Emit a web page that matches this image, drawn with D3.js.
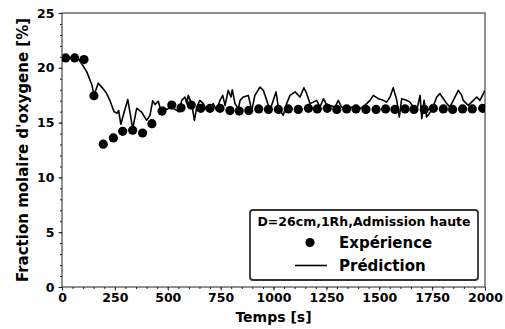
<!DOCTYPE html>
<html>
<head>
<meta charset="utf-8">
<script src="https://cdn.jsdelivr.net/npm/d3@7"></script>
<style>
  body { margin: 0; background: #fff; }
  svg text { font-family: "DejaVu Sans", sans-serif; font-weight: bold; }
</style>
</head>
<body>
<svg width="505" height="329"></svg>
<script>
// experiment (time s, O2 %)
var expTime = [17, 60, 104, 151, 195, 243, 287, 334, 381, 425, 473, 519, 563, 611, 656, 700, 747, 794, 838, 883,
  930, 976, 1023, 1070, 1117, 1165, 1207, 1254, 1299, 1346, 1390, 1437, 1485, 1530, 1574, 1622, 1664, 1713,
  1756, 1803, 1847, 1894, 1940, 1989];
var expValue = [20.9, 20.9, 20.75, 17.45, 13.03, 13.6, 14.2, 14.3, 14.05, 14.9, 16.05, 16.6, 16.35, 16.6, 16.3, 16.3,
  16.3, 16.1, 16.05, 16.1, 16.25, 16.2, 16.2, 16.25, 16.2, 16.3, 16.25, 16.3, 16.2, 16.25, 16.25, 16.2, 16.2,
  16.25, 16.2, 16.25, 16.2, 16.2, 16.3, 16.25, 16.2, 16.25, 16.25, 16.3];

// prediction
var predTime = [0, 76, 99, 118, 142, 151, 172, 194, 208, 227, 246, 260, 268, 278, 293, 311, 326, 334, 353, 377,
  400, 416, 429, 440, 455, 468, 479, 497, 514, 528, 542, 553, 566, 582, 590, 597, 613, 626, 637, 652, 668,
  684, 700, 715, 731, 747, 760, 771, 786, 799, 805, 818, 834, 842, 857, 881, 897, 912, 936, 952, 968, 983,
  999, 1012, 1023, 1046, 1062, 1078, 1102, 1125, 1144, 1157, 1173, 1188, 1204, 1220, 1236, 1248, 1267,
  1291, 1306, 1322, 1346, 1377, 1409, 1441, 1456, 1472, 1495, 1519, 1535, 1551, 1566, 1583, 1595, 1606,
  1630, 1645, 1661, 1677, 1693, 1701, 1712, 1724, 1748, 1772, 1787, 1803, 1819, 1834, 1850, 1874, 1890,
  1897, 1921, 1945, 1961, 1976, 2000];
var predValue = [20.9, 20.85, 20.2, 19.6, 18.4, 17.5, 18.6, 18.1, 17.75, 17.0, 16.0, 15.85, 16.1, 14.85, 15.9, 17.1,
  15.4, 14.4, 16.3, 15.95, 15.2, 15.65, 17.0, 16.65, 16.95, 16.1, 16.4, 16.2, 16.45, 16.3, 16.12, 15.97, 17.03,
  17.33, 16.73, 17.48, 16.73, 15.2, 16.42, 17.03, 16.73, 16.12, 16.36, 16.73, 16.12, 17.03, 17.48, 16.57,
  17.94, 17.33, 18.0, 16.73, 16.27, 17.03, 17.33, 17.48, 16.1, 17.48, 18.24, 17.94, 17.03, 16.1, 17.03,
  17.8, 16.4, 15.66, 16.73, 17.48, 17.8, 17.33, 18.18, 17.64, 16.73, 16.87, 17.03, 16.42, 17.18, 16.73,
  16.57, 16.42, 17.03, 16.42, 16.36, 16.42, 16.27, 16.73, 17.03, 17.48, 17.18, 17.03, 16.87, 17.33, 18.18,
  17.03, 15.51, 17.18, 17.03, 16.87, 16.42, 16.12, 17.48, 15.36, 17.03, 15.51, 16.12, 17.33, 17.64, 17.18,
  16.73, 16.42, 17.03, 17.94, 17.48, 17.03, 16.57, 17.03, 17.33, 17.03, 17.94];

var xTicks = [0, 250, 500, 750, 1000, 1250, 1500, 1750, 2000];
var yTicks = [0, 5, 10, 15, 20, 25];

var svg = d3.select("svg");
var pLeft = 62, pRight = 485, pTop = 13, pBottom = 287;

var x = d3.scaleLinear().domain([0, 2000]).range([pLeft, pRight]);
var y = d3.scaleLinear().domain([0, 25]).range([pBottom, pTop]);

// minor ticks
svg.append("g")
  .attr("transform", "translate(0," + pBottom + ")")
  .call(d3.axisBottom(x).tickValues(d3.range(0, 2001, 50)).tickSize(2).tickFormat(""))
  .call(g => g.select(".domain").remove());
svg.append("g")
  .attr("transform", "translate(" + pLeft + ",0)")
  .call(d3.axisLeft(y).tickValues(d3.range(0, 26, 1)).tickSize(2).tickFormat(""))
  .call(g => g.select(".domain").remove());

// major ticks
var xAxis = svg.append("g")
  .attr("transform", "translate(0," + pBottom + ")")
  .call(d3.axisBottom(x).tickValues(xTicks).tickSize(3.5).tickPadding(3).tickFormat(d3.format("d")));
xAxis.select(".domain").remove();
xAxis.selectAll("text").attr("font-size", "12.5px").attr("fill", "#000");

var yAxis = svg.append("g")
  .attr("transform", "translate(" + pLeft + ",0)")
  .call(d3.axisLeft(y).tickValues(yTicks).tickSize(3.5).tickPadding(4).tickFormat(d3.format("d")));
yAxis.select(".domain").remove();
yAxis.selectAll("text").attr("font-size", "12.5px").attr("fill", "#000");

svg.selectAll(".tick line").attr("stroke", "#222");

// frame
svg.append("rect")
  .attr("x", pLeft).attr("y", pTop)
  .attr("width", pRight - pLeft).attr("height", pBottom - pTop)
  .attr("fill", "none").attr("stroke", "#222").attr("stroke-width", 1);

svg.append("clipPath").attr("id", "clip")
  .append("rect").attr("x", pLeft).attr("y", pTop).attr("width", pRight - pLeft).attr("height", pBottom - pTop);
var plot = svg.append("g").attr("clip-path", "url(#clip)");

var line = d3.line()
  .x(function (d, i) { return x(predTime[i]); })
  .y(function (d) { return y(d); });

plot.append("path")
  .datum(predValue)
  .attr("d", line)
  .attr("fill", "none")
  .attr("stroke", "#000")
  .attr("stroke-width", 1.6)
  .attr("stroke-linejoin", "round");

plot.selectAll(".dot")
  .data(expValue)
  .enter()
  .append("circle")
  .attr("class", "dot")
  .attr("cx", function (d, i) { return x(expTime[i]); })
  .attr("cy", function (d) { return y(d); })
  .attr("r", 4.6)
  .attr("fill", "#000");

// axis labels
svg.append("text")
  .attr("x", (pLeft + pRight) / 2)
  .attr("y", 322)
  .attr("text-anchor", "middle")
  .attr("font-size", "14px")
  .text("Temps [s]");

svg.append("text")
  .attr("transform", "translate(28," + (pTop + pBottom) / 2 + ") rotate(-90)")
  .attr("text-anchor", "middle")
  .attr("font-size", "15px")
  .text("Fraction molaire d'oxygene [%]");

// legend
var lg = svg.append("g");
lg.append("rect")
  .attr("x", 250).attr("y", 210)
  .attr("width", 228).attr("height", 70)
  .attr("rx", 3)
  .attr("fill", "#fff")
  .attr("stroke", "#333")
  .attr("stroke-width", 1.8);
lg.append("text")
  .attr("x", 364).attr("y", 226)
  .attr("text-anchor", "middle")
  .attr("font-size", "12.5px")
  .text("D=26cm,1Rh,Admission haute");
lg.append("circle")
  .attr("cx", 310).attr("cy", 242.5).attr("r", 4.6).attr("fill", "#000");
lg.append("text")
  .attr("x", 339).attr("y", 248)
  .attr("font-size", "15px")
  .text("Expérience");
lg.append("line")
  .attr("x1", 295).attr("x2", 327)
  .attr("y1", 265.5).attr("y2", 265.5)
  .attr("stroke", "#000").attr("stroke-width", 1.6);
lg.append("text")
  .attr("x", 339).attr("y", 271)
  .attr("font-size", "15px")
  .text("Prédiction");
</script>
</body>
</html>
